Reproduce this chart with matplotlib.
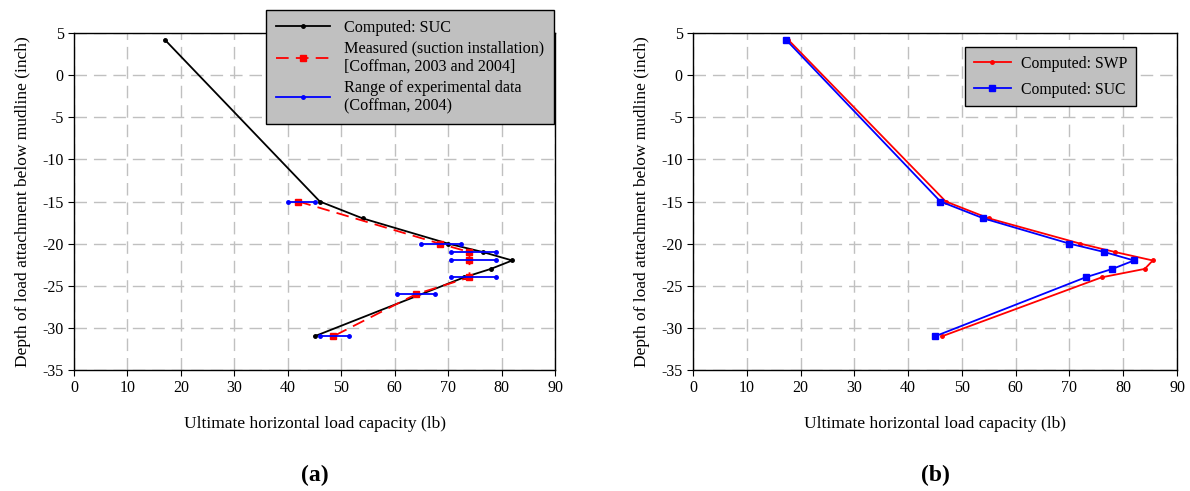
import matplotlib
matplotlib.use("Agg")
import matplotlib.pyplot as plt

plt.rcParams['font.family'] = ['Liberation Serif', 'DejaVu Serif']
plt.rcParams['axes.unicode_minus'] = False

# ---- Data (a) ----
suc_a_x = [17, 46, 54, 70, 76.5, 82, 78, 73, 45]
suc_a_y = [4.2, -15, -17, -20, -21, -22, -23, -24, -31]
meas_x = [42, 68.4, 74, 74, 74, 64, 48.5]
meas_y = [-15, -20, -21, -22, -24, -26, -31]
range_lo = [40, 65, 70.5, 70.5, 70.5, 60.5, 46]
range_hi = [45, 72.5, 79, 79, 79, 67.5, 51.5]
range_y = [-15, -20, -21, -22, -24, -26, -31]

# ---- Data (b) ----
swp_x = [17.7, 47, 55, 72, 78.5, 85.5, 84, 76, 46.3]
swp_y = [4.2, -15, -17, -20, -21, -22, -23, -24, -31]
suc_b_x = [17.3, 46, 54, 70, 76.5, 82, 78, 73, 45]
suc_b_y = [4.2, -15, -17, -20, -21, -22, -23, -24, -31]

xticks = list(range(0, 91, 10))
yticks = list(range(-35, 6, 5))

fig = plt.figure(figsize=(11.9, 4.91), dpi=100)
axA = fig.add_axes([74/1190, 1-370/491, 481/1190, 337/491])
axB = fig.add_axes([693/1190, 1-370/491, 484/1190, 337/491])

def style(ax):
    ax.set_xlim(0, 90)
    ax.set_ylim(-35, 5)
    ax.set_xticks(xticks)
    ax.set_yticks(yticks)
    ax.grid(True, color='#c0c0c0', linestyle=(0, (9, 5)), linewidth=1.0)
    ax.set_axisbelow(True)
    ax.tick_params(direction='out', length=4, labelsize=11.5, color='black')
    for s in ax.spines.values():
        s.set_color('black')
        s.set_linewidth(1.0)
    ax.set_xlabel('Ultimate horizontal load capacity (lb)', fontsize=12.5, labelpad=14)
    ax.set_ylabel('Depth of load attachment below mudline (inch)', fontsize=12.5, labelpad=8)

style(axA)
style(axB)

# (a)
lA1, = axA.plot(suc_a_x, suc_a_y, color='black', lw=1.3, marker='o', ms=2.5,
                label='Computed: SUC', zorder=3)
lA2, = axA.plot(meas_x, meas_y, color='red', lw=1.3, dashes=(7, 4), marker='s', ms=4,
                label='Measured (suction installation)\n[Coffman, 2003 and 2004]', zorder=4)
lA3 = None
for lo, hi, yy in zip(range_lo, range_hi, range_y):
    l, = axA.plot([lo, hi], [yy, yy], color='blue', lw=1.3, marker='o', ms=2.5, zorder=5)
    if lA3 is None:
        lA3 = l
lA3.set_label('Range of experimental data\n(Coffman, 2004)')
legA = axA.legend(handles=[lA1, lA2, lA3], loc='upper left',
                  bbox_to_anchor=(266/1190, 1-10/491), bbox_transform=fig.transFigure,
                  borderaxespad=0,
                  fontsize=11.6, facecolor='#c0c0c0', edgecolor='black', framealpha=1,
                  fancybox=False, handlelength=3.4, handletextpad=0.85,
                  borderpad=0.6, labelspacing=0.3)
legA.get_frame().set_linewidth(1.0)

# (b)
lB1, = axB.plot(swp_x, swp_y, color='red', lw=1.3, marker='o', ms=2.5,
                label='Computed: SWP', zorder=3)
lB2, = axB.plot(suc_b_x, suc_b_y, color='blue', lw=1.3, marker='s', ms=4.5,
                label='Computed: SUC', zorder=4)
legB = axB.legend(handles=[lB1, lB2], loc='upper left',
                  bbox_to_anchor=(965/1190, 1-47/491), bbox_transform=fig.transFigure,
                  borderaxespad=0,
                  fontsize=11.3, facecolor='#c0c0c0', edgecolor='black', framealpha=1,
                  fancybox=False, handlelength=2.4, handletextpad=0.6,
                  borderpad=0.55, labelspacing=0.65)
legB.get_frame().set_linewidth(1.0)

fig.text(315/1190, 1-475/491, '(a)', fontsize=17, fontweight='bold', ha='center', va='center')
fig.text(935/1190, 1-475/491, '(b)', fontsize=17, fontweight='bold', ha='center', va='center')

fig.savefig('out.png', dpi=100)
